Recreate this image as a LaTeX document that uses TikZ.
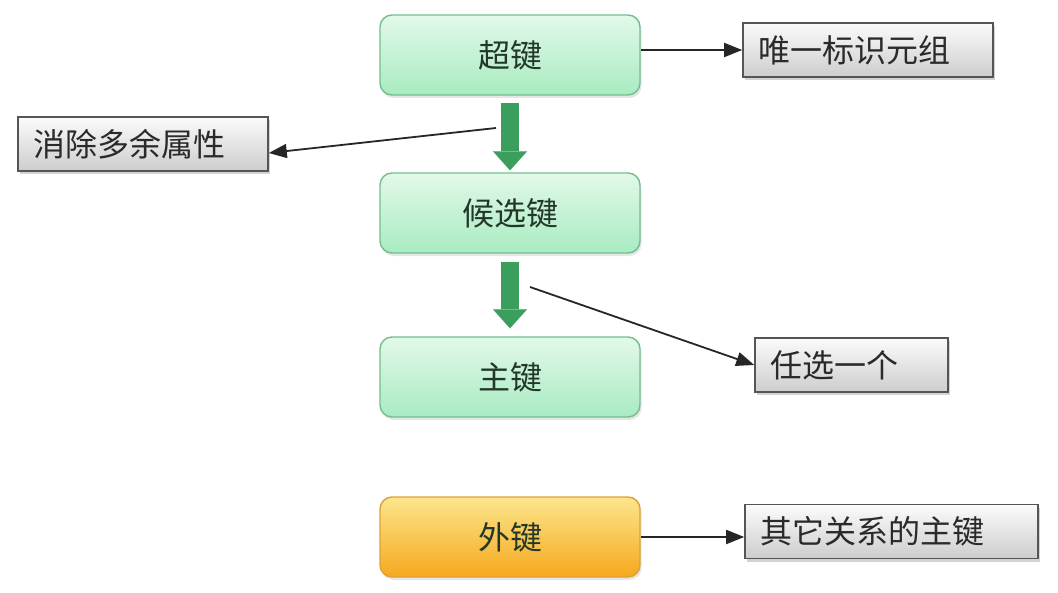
\documentclass[tikz,border=0pt]{standalone}
\usepackage{fontspec}
\setmainfont{Noto Sans CJK SC}
\usepackage{tikz}
\usetikzlibrary{arrows.meta, shadows}
\definecolor{keytop}{HTML}{E2F9E9}
\definecolor{keybot}{HTML}{A8EBC1}
\definecolor{keyline}{HTML}{74BE8E}
\definecolor{keytext}{HTML}{24382A}
\definecolor{fktop}{HTML}{FCE68C}
\definecolor{fkbot}{HTML}{F6A81E}
\definecolor{fkline}{HTML}{DDA03A}
\definecolor{notetop}{HTML}{FBFBFB}
\definecolor{notebot}{HTML}{CDCDCD}
\definecolor{noteline}{HTML}{555555}
\definecolor{notetext}{HTML}{2A2A2A}
\definecolor{arrowgreen}{HTML}{3A9E5C}

\begin{document}
\begin{tikzpicture}[x=0.5pt, y=-0.5pt, >={Triangle[length=9pt, width=7pt]},
  keybox/.style={draw=keyline, line width=0.7pt, rounded corners=6pt, top color=keytop, bottom color=keybot,
    minimum width=130pt, minimum height=40pt, text=keytext, font=\fontsize{16pt}{19pt}\selectfont,
    drop shadow={opacity=0.2, shadow xshift=0.8pt, shadow yshift=-1.5pt}},
  fkbox/.style={keybox, draw=fkline, top color=fktop, bottom color=fkbot},
  notebox/.style={draw=noteline, line width=0.8pt, top color=notetop, bottom color=notebot, inner xsep=7.5pt,
    align=left, minimum height=27pt, text=notetext, font=\fontsize{16pt}{19pt}\selectfont,
    drop shadow={opacity=0.35, shadow xshift=1pt, shadow yshift=-1.5pt}},
  keyarrow/.style={draw=arrowgreen, line width=9pt, -{Triangle[length=9.5pt, width=17pt, line width=0.01pt]}},
  noteline/.style={->, draw=black!85, line width=0.9pt}]
\useasboundingbox (0,0) rectangle (1058,593);
\node[keybox] (sk) at (510,55) {超键};
\node[keybox] (ck) at (510,213) {候选键};
\node[keybox] (pk) at (510,377) {主键};
\node[fkbox] (fk) at (510,537) {外键};
\node[notebox, text width=110pt] (uid) at (868,50) {唯一标识元组};
\node[notebox, text width=110pt] (del) at (143,144) {消除多余属性};
\node[notebox, text width=81.5pt] (pick) at (851.5,365) {任选一个};
\node[notebox, text width=131.5pt] (other) at (891.5,531.5) {其它关系的主键};
\coordinate (m1) at (496,128);
\coordinate (m2) at (530,287);
\draw[keyarrow, shorten <=3.5pt, shorten >=1pt] (sk) -- (ck);
\draw[keyarrow, shorten <=4pt, shorten >=4pt] (ck) -- (pk);
\draw[noteline] (sk.east |- uid.west) -- (uid.west);
\draw[noteline] (m1) -- ([yshift=-4.5pt]del.east);
\draw[noteline] (m2) -- (pick.west);
\draw[noteline] (fk.east) -- (fk.east -| other.west);
\end{tikzpicture}
\end{document}
